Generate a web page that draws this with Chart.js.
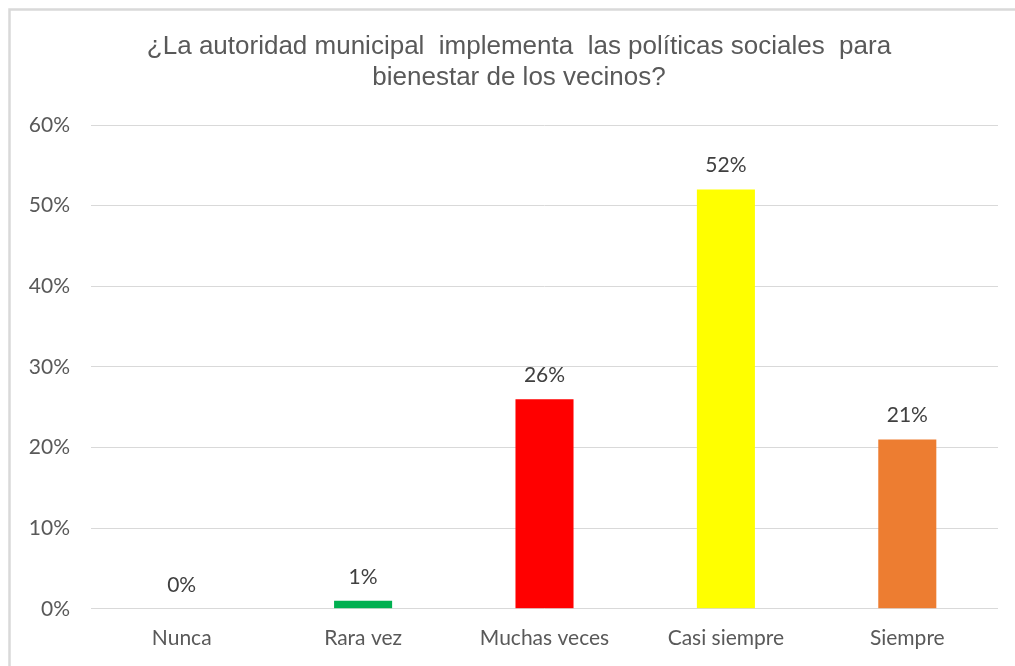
<!DOCTYPE html>
<html>
<head>
<meta charset="utf-8">
<script src="https://cdn.jsdelivr.net/npm/chart.js@4"></script>
<style>
  html, body { margin: 0; padding: 0; background: #fff; }
  #wrap { position: relative; width: 1015px; height: 666px; }
</style>
</head>
<body>
<div id="wrap"><canvas id="grafico"></canvas></div>
<script>
// categorías y porcentajes de respuesta
const categorias = ['Nunca', 'Rara vez', 'Muchas veces', 'Casi siempre', 'Siempre'];
const porcentajes = [0, 1, 26, 52, 21];
const colores = ['#a5a5a5', '#00b050', '#ff0000', '#ffff00', '#ed7d31'];
const titulo = ['¿La autoridad municipal  implementa  las políticas sociales  para', 'bienestar de los vecinos?'];
const ejeY = { min: 0, max: 60, paso: 10 };

// marco gris del gráfico
const marco = {
    id: 'marco',
    beforeDraw(chart) {
        const ctx = chart.ctx;
        ctx.save();
        ctx.strokeStyle = '#d9d9d9';
        ctx.lineWidth = 2.5;
        ctx.beginPath();
        ctx.moveTo(9.5, chart.height);
        ctx.lineTo(9.5, 9.5);
        ctx.lineTo(chart.width, 9.5);
        ctx.stroke();
        ctx.restore();
    }
};

// título en dos líneas, centrado sobre el marco completo
const encabezado = {
    id: 'encabezado',
    afterDraw(chart) {
        const ctx = chart.ctx;
        ctx.save();
        ctx.font = '26px "Liberation Sans"';
        ctx.fillStyle = '#595959';
        ctx.textAlign = 'center';
        ctx.textBaseline = 'middle';
        titulo.forEach((linea, i) => {
            ctx.fillText(linea, 519, 47 + i * 31);
        });
        ctx.restore();
    }
};

// etiquetas de valor encima de cada barra
const etiquetas = {
    id: 'etiquetas',
    afterDatasetsDraw(chart) {
        const ctx = chart.ctx;
        const meta = chart.getDatasetMeta(0);
        ctx.save();
        ctx.font = '21px Lato';
        ctx.fillStyle = '#404040';
        ctx.textAlign = 'center';
        ctx.textBaseline = 'middle';
        meta.data.forEach((bar, i) => {
            ctx.fillText(porcentajes[i] + '%', bar.x, bar.y - 24);
        });
        ctx.restore();
    }
};

const chart = new Chart(document.getElementById('grafico'), {
    type: 'bar',
    data: {
        labels: categorias,
        datasets: [{
            data: porcentajes,
            backgroundColor: colores,
            borderWidth: 0,
            categoryPercentage: 1,
            barPercentage: 0.32
        }]
    },
    options: {
        responsive: true,
        maintainAspectRatio: false,
        animation: false,
        layout: {
            padding: { left: 10, right: 17, top: 125, bottom: 6 }
        },
        plugins: {
            legend: { display: false },
            tooltip: { enabled: false },
            title: { display: false }
        },
        scales: {
            x: {
                grid: { display: false },
                border: { display: false },
                ticks: {
                    color: '#595959',
                    font: { family: 'Lato', size: 21 },
                    padding: 9
                }
            },
            y: {
                min: ejeY.min,
                max: ejeY.max,
                afterFit(scale) { scale.width = 81; },
                grid: { color: '#d9d9d9', lineWidth: 1, drawTicks: false },
                border: { display: false },
                ticks: {
                    stepSize: ejeY.paso,
                    color: '#595959',
                    font: { family: 'Lato', size: 21 },
                    padding: 21,
                    callback: v => v + '%'
                }
            }
        }
    },
    plugins: [marco, encabezado, etiquetas]
});
</script>
</body>
</html>
